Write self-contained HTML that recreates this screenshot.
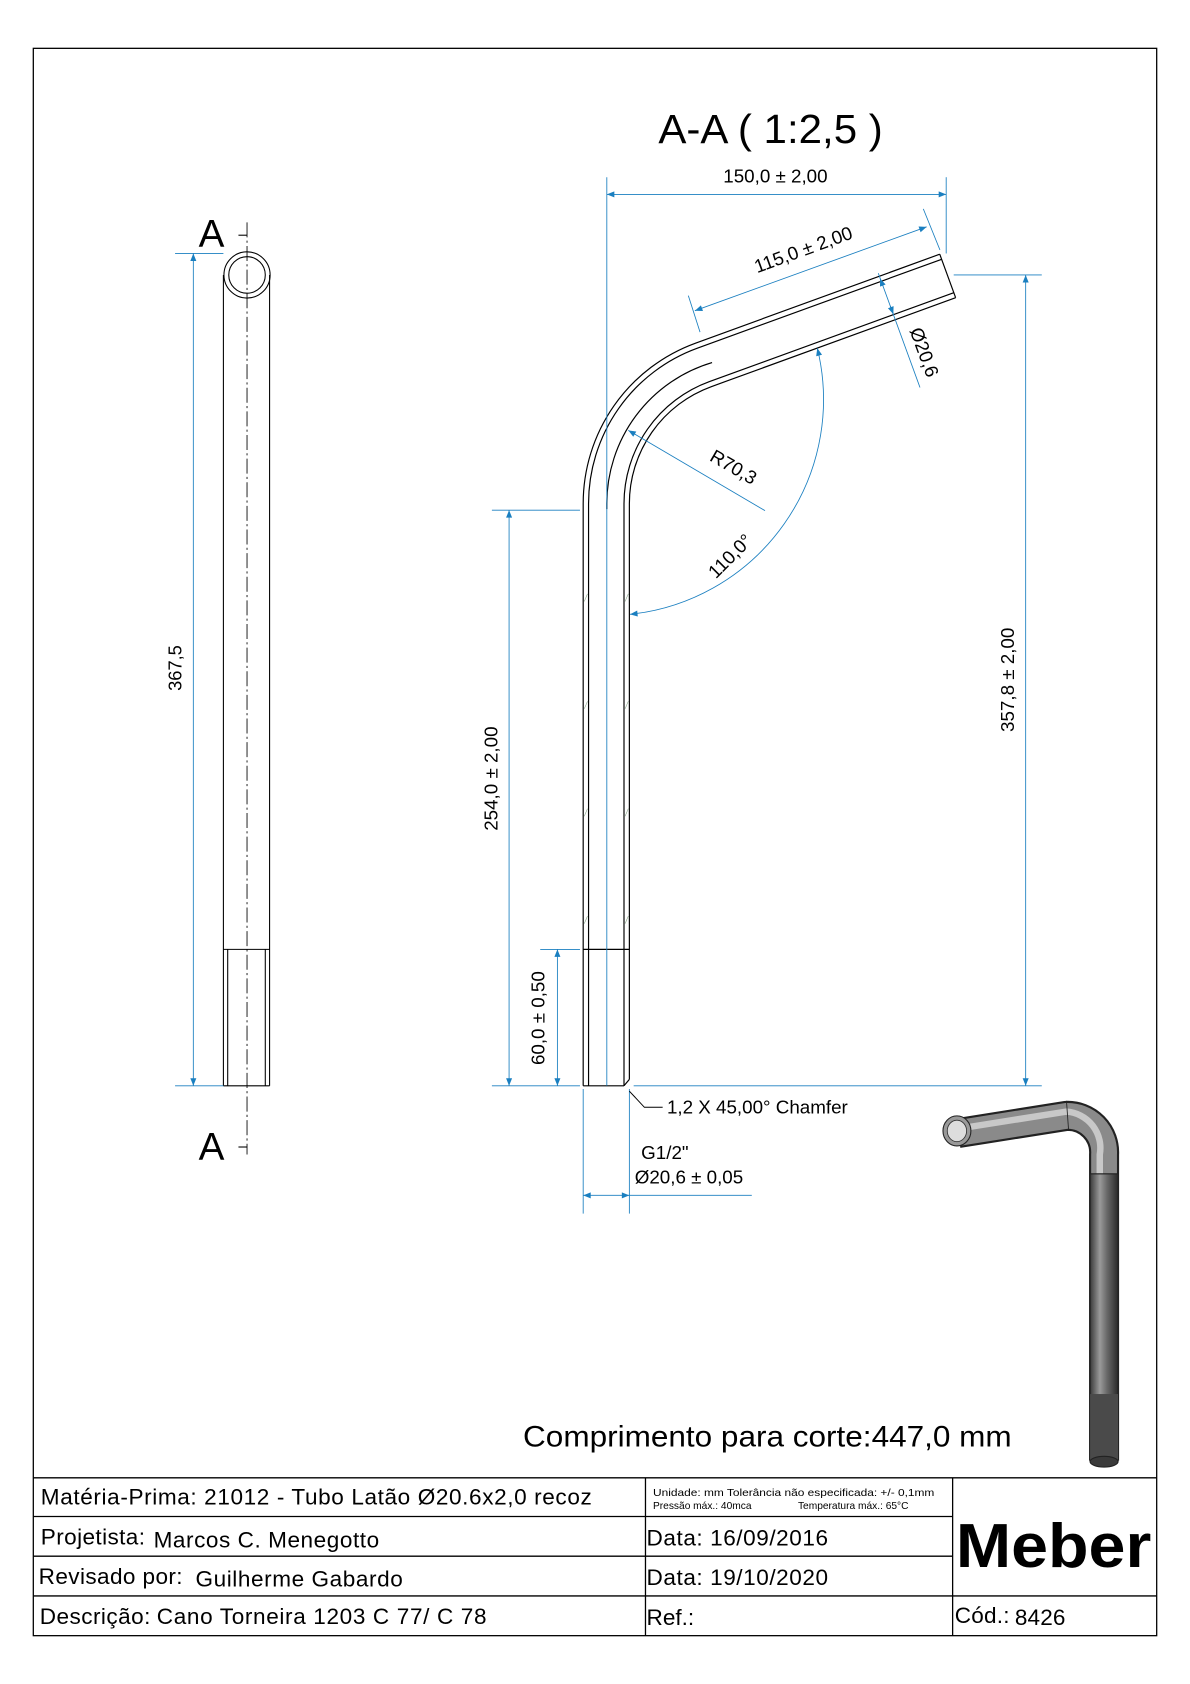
<!DOCTYPE html>
<html><head><meta charset="utf-8"><style>
html,body{margin:0;padding:0;background:#fff;}
svg{display:block;}
text{font-family:"Liberation Sans",sans-serif;}
</style></head><body>
<svg width="1190" height="1684" viewBox="0 0 1108 1568" xmlns="http://www.w3.org/2000/svg">
<defs>
<marker id="ar" viewBox="0 0 10 10" refX="10" refY="5" markerWidth="9" markerHeight="7" markerUnits="userSpaceOnUse" orient="auto-start-reverse"><path d="M0,1 L10,5 L0,9 z" fill="#1a7fc0"/></marker>
<linearGradient id="gv" x1="0" x2="1" y1="0" y2="0"><stop offset="0" stop-color="#3a3a3a"/><stop offset="0.35" stop-color="#9a9a9a"/><stop offset="0.6" stop-color="#6a6a6a"/><stop offset="1" stop-color="#2a2a2a"/></linearGradient>
</defs>
<rect width="1108" height="1568" fill="#fff"/>
<rect x="31" y="45" width="1046" height="1478" fill="none" stroke="#000" stroke-width="1.2"/>

<!-- LEFT VIEW -->
<g stroke="#000" fill="none" stroke-width="1">
<line x1="208" y1="256" x2="208" y2="1011"/><line x1="251" y1="256" x2="251" y2="1011"/>
<line x1="212" y1="884" x2="212" y2="1011"/><line x1="247" y1="884" x2="247" y2="1011"/>
<line x1="208" y1="884" x2="251" y2="884"/><line x1="208" y1="1011" x2="251" y2="1011"/>
<circle cx="230" cy="256" r="21.5"/><circle cx="230" cy="256" r="17"/>
<line x1="230" y1="207" x2="230" y2="1075" stroke-dasharray="14,3,2,3" stroke-width="0.8"/>
<line x1="222" y1="219" x2="230" y2="219"/><line x1="222" y1="1068" x2="230" y2="1068"/>
</g>
<text x="185" y="230" font-size="36">A</text>
<text x="185" y="1080" font-size="36">A</text>
<g stroke="#1a7fc0" stroke-width="0.8" fill="none">
<line x1="163" y1="236" x2="208" y2="236"/><line x1="163" y1="1011" x2="208" y2="1011"/>
<line x1="180" y1="236" x2="180" y2="1011" marker-start="url(#ar)" marker-end="url(#ar)"/>
</g>
<text transform="translate(169,622) rotate(-90)" font-size="17" text-anchor="middle">367,5</text>

<!-- SECTION VIEW -->
<text x="613" y="133" font-size="38" textLength="209" lengthAdjust="spacingAndGlyphs">A-A ( 1:2,5 )</text>
<g stroke="#000" fill="none" stroke-width="1.1">
<path d="M543,1011 L543,469 A159,159 0 0 1 647.6,319.5 L875,236.7"/>
<path d="M548,1011 L548,469 A154,154 0 0 1 649.3,324.2 L876.8,241.4"/>
<path d="M581,1011 L581,469 A121,121 0 0 1 660.6,355.3 L888.1,272.5"/>
<path d="M586,1005 L586,469 A116,116 0 0 1 662.3,360 L889.8,277.2"/>
<line x1="875" y1="236.7" x2="889.8" y2="277.2"/>
<path d="M565,474 L565,469 A137,137 0 0 1 663,337.6"/>
<line x1="543" y1="884" x2="586" y2="884"/>
<line x1="543" y1="1011" x2="581" y2="1011"/><line x1="581" y1="1011" x2="586" y2="1005"/>
</g>
<g stroke="#7a9a7a" stroke-width="0.5">
<line x1="544" y1="560" x2="547" y2="553"/><line x1="544" y1="660" x2="547" y2="653"/><line x1="544" y1="760" x2="547" y2="753"/><line x1="544" y1="860" x2="547" y2="853"/>
<line x1="582" y1="560" x2="585" y2="553"/><line x1="582" y1="660" x2="585" y2="653"/><line x1="582" y1="760" x2="585" y2="753"/><line x1="582" y1="860" x2="585" y2="853"/>
</g>
<g stroke="#1a7fc0" stroke-width="0.8" fill="none">
<line x1="565" y1="165" x2="565" y2="1011"/>
<line x1="881" y1="165" x2="881" y2="236"/>
<line x1="565" y1="181" x2="881" y2="181" marker-start="url(#ar)" marker-end="url(#ar)"/>
<line x1="640.9" y1="275.3" x2="651.8" y2="309.2"/>
<line x1="859.7" y1="194.5" x2="875.2" y2="232.8"/>
<line x1="647" y1="289.3" x2="862.8" y2="211.2" marker-start="url(#ar)" marker-end="url(#ar)"/>
<line x1="817.8" y1="254.4" x2="856.6" y2="360.8"/>
<line x1="819.5" y1="259.4" x2="822" y2="266" marker-start="url(#ar)"/>
<line x1="831.8" y1="292.6" x2="829" y2="285" marker-start="url(#ar)"/>
<line x1="585" y1="400.7" x2="712.3" y2="475.5" marker-start="url(#ar)"/>
<path d="M761,324.2 A201,201 0 0 1 586.6,572" marker-start="url(#ar)" marker-end="url(#ar)"/>
<line x1="458" y1="475" x2="540" y2="475"/><line x1="458" y1="1011" x2="540" y2="1011"/>
<line x1="474" y1="475" x2="474" y2="1011" marker-start="url(#ar)" marker-end="url(#ar)"/>
<line x1="503" y1="884" x2="540" y2="884"/>
<line x1="519" y1="884" x2="519" y2="1011" marker-start="url(#ar)" marker-end="url(#ar)"/>
<line x1="888" y1="256" x2="970" y2="256"/><line x1="590" y1="1011" x2="970" y2="1011"/>
<line x1="955" y1="256" x2="955" y2="1011" marker-start="url(#ar)" marker-end="url(#ar)"/>
<line x1="543" y1="1014" x2="543" y2="1130"/><line x1="586" y1="1014" x2="586" y2="1130"/>
<line x1="543" y1="1113" x2="586" y2="1113" marker-start="url(#ar)" marker-end="url(#ar)"/>
<line x1="586" y1="1113" x2="700" y2="1113"/>
</g>
<g font-size="17.5">
<text x="722" y="170" text-anchor="middle">150,0 ± 2,00</text>
<text transform="translate(750,238) rotate(-20)" text-anchor="middle">115,0 ± 2,00</text>
<text transform="translate(855,330) rotate(70)" text-anchor="middle">Ø20,6</text>
<text transform="translate(680,440) rotate(30)" text-anchor="middle">R70,3</text>
<text transform="translate(684,522) rotate(-45)" text-anchor="middle">110,0°</text>
<text transform="translate(463,725) rotate(-90)" text-anchor="middle">254,0 ± 2,00</text>
<text transform="translate(507,948) rotate(-90)" text-anchor="middle">60,0 ± 0,50</text>
<text transform="translate(944,633) rotate(-90)" text-anchor="middle">357,8 ± 2,00</text>
<text x="597" y="1079">G1/2"</text>
<text x="591" y="1102">Ø20,6 ± 0,05</text>
<text x="621" y="1037">1,2 X 45,00° Chamfer</text>
</g>
<path d="M586,1016 L600,1031 L617,1031" stroke="#000" fill="none" stroke-width="0.9"/>

<!-- 3D tube -->
<g>
<path d="M892,1055 L993,1039 A34,34 0 0 1 1028,1075 L1028,1360" stroke="#222" stroke-width="28" fill="none" stroke-linejoin="round"/>
<path d="M892,1055 L993,1039 A34,34 0 0 1 1028,1075 L1028,1360" stroke="#8a8a8a" stroke-width="24" fill="none"/>
<path d="M892,1051 L993,1035 A34,34 0 0 1 1024,1075 L1024,1300" stroke="#c8c8c8" stroke-width="6" fill="none"/>
<rect x="1015" y="1093" width="26" height="268" fill="url(#gv)" stroke="#222" stroke-width="1"/>
<rect x="1015" y="1298" width="26" height="63" fill="#4a4a4a"/>
<ellipse cx="1028" cy="1361" rx="13" ry="5" fill="#3a3a3a" stroke="#222"/>
<ellipse cx="891" cy="1053" rx="13" ry="14" fill="#999" stroke="#222" stroke-width="1"/>
<ellipse cx="891" cy="1053" rx="9" ry="10" fill="#ddd" stroke="#333" stroke-width="0.8"/>
<line x1="993" y1="1025" x2="995" y2="1053" stroke="#222" stroke-width="0.8"/>
<line x1="1015" y1="1093" x2="1041" y2="1093" stroke="#222" stroke-width="0.8"/>
</g>

<text x="487" y="1347" font-size="28" textLength="455" lengthAdjust="spacingAndGlyphs">Comprimento para corte:447,0 mm</text>

<!-- TITLE BLOCK -->
<g stroke="#000" stroke-width="1.2" fill="none">
<line x1="31" y1="1376" x2="1077" y2="1376"/>
<line x1="31" y1="1412" x2="887" y2="1412"/>
<line x1="31" y1="1449" x2="887" y2="1449"/>
<line x1="31" y1="1486" x2="1077" y2="1486"/>
<line x1="601" y1="1376" x2="601" y2="1523"/>
<line x1="887" y1="1376" x2="887" y2="1523"/>
</g>
<g font-size="21" lengthAdjust="spacingAndGlyphs">
<text x="38" y="1401" textLength="513">Matéria-Prima: 21012 - Tubo Latão Ø20.6x2,0 recoz</text>
<text x="38" y="1438" textLength="97">Projetista:</text>
<text x="143" y="1441" textLength="210">Marcos C. Menegotto</text>
<text x="36" y="1475" textLength="134">Revisado por:</text>
<text x="182" y="1477" textLength="193">Guilherme Gabardo</text>
<text x="37" y="1512" textLength="103">Descrição:</text>
<text x="146" y="1512" textLength="307">Cano Torneira 1203 C 77/ C 78</text>
<text x="602" y="1439" textLength="169">Data: 16/09/2016</text>
<text x="602" y="1476" textLength="169">Data: 19/10/2020</text>
<text x="602" y="1513">Ref.:</text>
<text x="889" y="1511" textLength="51">Cód.:</text>
<text x="945" y="1513" textLength="47">8426</text>
</g>
<text x="608" y="1393" font-size="9.5" textLength="262" lengthAdjust="spacingAndGlyphs">Unidade: mm Tolerância não especificada: +/- 0,1mm</text>
<text x="608" y="1405" font-size="9.5">Pressão máx.: 40mca <tspan x="743">Temperatura máx.: 65°C</tspan></text>
<text x="890" y="1459" font-size="58" font-weight="bold" textLength="182" lengthAdjust="spacingAndGlyphs">Meber</text>
</svg>
</body></html>
